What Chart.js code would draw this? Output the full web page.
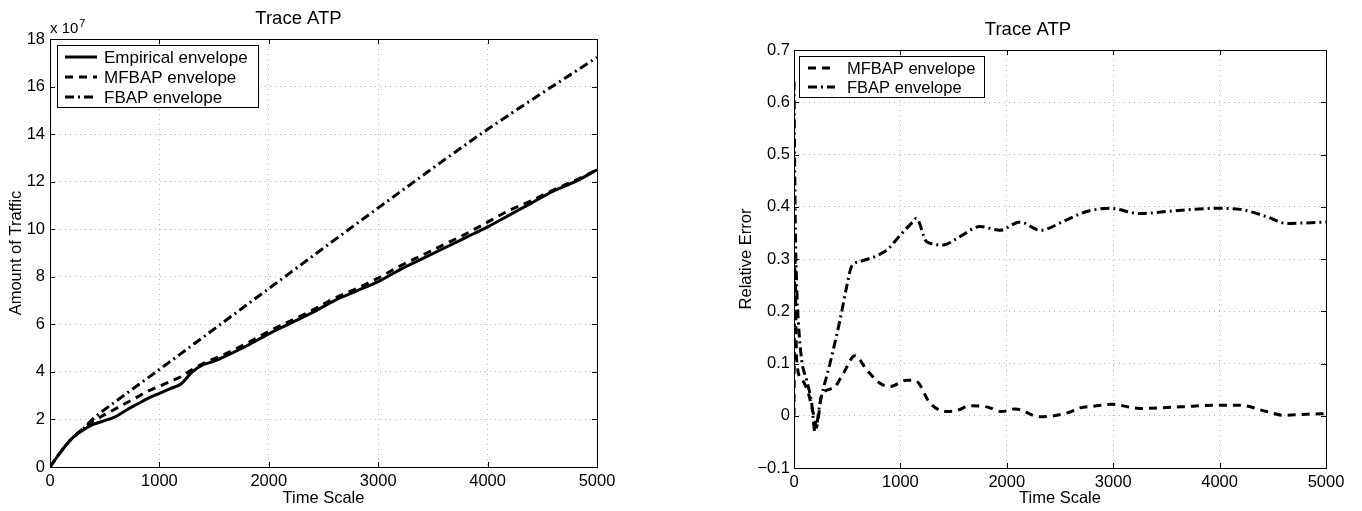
<!DOCTYPE html>
<html>
<head>
<meta charset="utf-8">
<title>Trace ATP</title>
<script src="https://cdn.jsdelivr.net/npm/chart.js@4/dist/chart.umd.min.js"></script>
<style>
  html, body { margin: 0; padding: 0; background: #fff; }
  #wrap { position: relative; width: 1362px; height: 511px; }
  .panel { position: absolute; top: 0; height: 511px; }
  #leftPanel { left: 0; width: 680px; }
  #rightPanel { left: 680px; width: 682px; }
</style>
</head>
<body>
<div id="wrap">
  <div class="panel" id="leftPanel"><canvas id="envChart"></canvas></div>
  <div class="panel" id="rightPanel"><canvas id="errChart"></canvas></div>
</div>
<script>
// Left panel: envelopes, values in units of 10^7
const envTime = [0, 100, 200, 300, 400, 500, 600, 700, 800, 900, 1000, 1100, 1200, 1300, 1400, 1500, 1600,
  1800, 2000, 2200, 2400, 2600, 2800, 3000, 3200, 3400, 3600, 3800, 4000, 4200, 4400, 4600, 4800, 5000];
const empirical = [0, 0.65, 1.2, 1.55, 1.8, 1.95, 2.12, 2.4, 2.65, 2.9, 3.1, 3.3, 3.5, 4.0, 4.3, 4.45, 4.65,
  5.1, 5.6, 6.05, 6.5, 7.0, 7.4, 7.8, 8.3, 8.75, 9.2, 9.65, 10.1, 10.6, 11.1, 11.6, 12.0, 12.5];
const mfbap = [0, 0.65, 1.2, 1.6, 1.95, 2.2, 2.45, 2.7, 2.95, 3.2, 3.4, 3.6, 3.8, 4.1, 4.35, 4.55, 4.75,
  5.2, 5.7, 6.15, 6.6, 7.1, 7.5, 7.95, 8.45, 8.9, 9.35, 9.8, 10.3, 10.8, 11.2, 11.65, 12.05, 12.5];
const fbapTime = [0, 100, 200, 300, 400, 640, 1000, 1858, 3016, 4000, 5000];
const fbap = [0, 0.65, 1.2, 1.6, 2.05, 2.89, 4.1, 7.02, 10.95, 14.2, 17.23];

// Right panel: relative error
const mfbapErrTime = [0, 8, 25, 72, 135, 181, 213, 260, 370, 463, 573, 683, 808, 902, 1059, 1150, 1278, 1435,
  1529, 1654, 1811, 1952, 2077, 2312, 2563, 2688, 2845, 2986, 3252, 3628, 3972, 4192, 4443, 4599, 4819, 5000];
const mfbapErr = [0, 0.3, 0.107, 0.07, 0.043, 0.005, -0.02, 0.04, 0.053, 0.081, 0.115, 0.088, 0.062, 0.056, 0.068, 0.066, 0.024, 0.008,
  0.01, 0.019, 0.017, 0.008, 0.013, -0.002, 0.005, 0.015, 0.019, 0.022, 0.014, 0.017, 0.02, 0.02, 0.008, 0.001, 0.003, 0.004];
const fbapErrTime = [0, 10, 25, 40, 72, 119, 166, 197, 244, 338, 432, 495, 542, 620, 871, 996, 1121, 1150,
  1247, 1403, 1560, 1748, 1936, 2124, 2312, 2563, 2752, 2970, 3252, 3562, 3972, 4192, 4443, 4631, 4800, 5000];
const fbapErr = [0.64, 0.4, 0.25, 0.183, 0.107, 0.068, 0.024, -0.03, 0.024, 0.1, 0.183, 0.247, 0.286, 0.295, 0.317, 0.345, 0.372, 0.378,
  0.333, 0.327, 0.343, 0.362, 0.355, 0.371, 0.355, 0.375, 0.391, 0.397, 0.387, 0.392, 0.397, 0.395, 0.381, 0.368, 0.369, 0.371];

const TITLE = "Trace ATP";
const X_LABEL = "Time Scale";
const X_TICKS = { min: 0, max: 5000, step: 1000 };
const ENV_TICKS = { min: 0, max: 18, step: 2 };
const ERR_TICKS = { min: -0.1, max: 0.7, step: 0.1 };

const FONT = '"Liberation Sans", Arial, Helvetica, sans-serif';
const GRID = "#b4b4b4";
const SOLID = [];
const DASHED = [8, 6];
const DASHDOT = [9, 4, 2, 4];

Chart.defaults.font.family = FONT;
Chart.defaults.font.size = 16;
Chart.defaults.color = "#000";

function toPoints(xs, ys) {
  return xs.map((x, i) => ({ x, y: ys[i] }));
}

function lineSet(label, xs, ys, dash) {
  return {
    label,
    data: toPoints(xs, ys),
    borderColor: "#000",
    borderWidth: 3,
    borderDash: dash,
    pointRadius: 0,
    fill: false,
    cubicInterpolationMode: "monotone"
  };
}

// matlab style box with inward ticks on all four sides
const frameTicks = {
  id: "frameTicks",
  afterDatasetsDraw(chart) {
    const { ctx, chartArea: a, scales } = chart;
    const len = 5;
    ctx.save();
    ctx.strokeStyle = "#000";
    ctx.lineWidth = 1;
    ctx.setLineDash([]);
    ctx.beginPath();
    scales.x.ticks.forEach((t) => {
      const px = Math.round(scales.x.getPixelForValue(t.value)) + 0.5;
      ctx.moveTo(px, a.bottom); ctx.lineTo(px, a.bottom - len);
      ctx.moveTo(px, a.top); ctx.lineTo(px, a.top + len);
    });
    scales.y.ticks.forEach((t) => {
      const py = Math.round(scales.y.getPixelForValue(t.value)) + 0.5;
      ctx.moveTo(a.left, py); ctx.lineTo(a.left + len, py);
      ctx.moveTo(a.right, py); ctx.lineTo(a.right - len, py);
    });
    ctx.stroke();
    ctx.strokeRect(Math.round(a.left) + 0.5, Math.round(a.top) + 0.5,
      Math.round(a.right - a.left), Math.round(a.bottom - a.top));
    ctx.restore();
  }
};

const boxLegend = {
  id: "boxLegend",
  afterDraw(chart, args, opts) {
    if (!opts.rows) return;
    const { ctx, chartArea: a } = chart;
    const left = a.left + opts.left;
    const top = a.top + opts.top;
    ctx.save();
    ctx.fillStyle = "#fff";
    ctx.fillRect(left, top, opts.width, opts.height);
    ctx.strokeStyle = "#000";
    ctx.lineWidth = 1;
    ctx.setLineDash([]);
    ctx.strokeRect(Math.round(left) + 0.5, Math.round(top) + 0.5, opts.width, opts.height);
    ctx.font = `${opts.fontSize}px ${FONT}`;
    ctx.textBaseline = "middle";
    ctx.fillStyle = "#000";
    chart.data.datasets.forEach((ds, i) => {
      const y = top + opts.firstRow + i * opts.rowHeight;
      ctx.beginPath();
      ctx.setLineDash(ds.borderDash);
      ctx.lineWidth = ds.borderWidth;
      ctx.moveTo(left + opts.sampleLeft, y);
      ctx.lineTo(left + opts.sampleLeft + opts.sampleLen, y);
      ctx.stroke();
      ctx.fillText(ds.label, left + opts.textLeft, y + 1);
    });
    ctx.restore();
  }
};

const exponentNote = {
  id: "exponentNote",
  afterDraw(chart, args, opts) {
    if (!opts.exp) return;
    const { ctx, chartArea: a } = chart;
    ctx.save();
    ctx.fillStyle = "#000";
    ctx.textBaseline = "alphabetic";
    ctx.font = `15px ${FONT}`;
    const base = "x 10";
    ctx.fillText(base, a.left, a.top - 6);
    const w = ctx.measureText(base).width;
    ctx.font = `11px ${FONT}`;
    ctx.fillText(opts.exp, a.left + w + 1, a.top - 12);
    ctx.restore();
  }
};

function buildOptions(cfg) {
  return {
    responsive: true,
    maintainAspectRatio: false,
    animation: false,
    layout: { padding: cfg.padding },
    plugins: {
      legend: { display: false },
      tooltip: { enabled: false },
      title: {
        display: true,
        text: TITLE,
        color: "#000",
        font: { size: 18.5, weight: "normal" },
        padding: { top: 7.4, bottom: 9.4 }
      },
      boxLegend: cfg.legend,
      exponentNote: { exp: cfg.exp }
    },
    scales: {
      x: {
        type: "linear",
        min: X_TICKS.min,
        max: X_TICKS.max,
        afterFit(scale) { scale.height = cfg.xHeight; },
        ticks: {
          stepSize: X_TICKS.step,
          autoSkip: false,
          maxRotation: 0,
          padding: 5,
          color: "#000",
          font: { size: 16.5 },
          callback: (v) => String(v)
        },
        grid: { color: GRID, lineWidth: 1, drawTicks: false },
        border: { display: false, dash: [1, 4] },
        title: { display: true, text: X_LABEL, color: "#000", font: { size: 16.5 }, padding: { top: 3, bottom: 3 } }
      },
      y: {
        type: "linear",
        min: cfg.yTicks.min,
        max: cfg.yTicks.max,
        afterFit(scale) { scale.width = cfg.yWidth; },
        ticks: {
          stepSize: cfg.yTicks.step,
          autoSkip: false,
          padding: cfg.yPad,
          color: "#000",
          font: { size: 16.5 },
          callback: cfg.yFormat
        },
        grid: { color: GRID, lineWidth: 1, drawTicks: false },
        border: { display: false, dash: [1, 4] },
        title: { display: true, text: cfg.yLabel, color: "#000", font: { size: 16.5 }, padding: { top: 7, bottom: 7 } }
      }
    }
  };
}

new Chart(document.getElementById("envChart"), {
  type: "line",
  data: {
    datasets: [
      lineSet("Empirical envelope", envTime, empirical, SOLID),
      lineSet("MFBAP envelope", envTime, mfbap, DASHED),
      lineSet("FBAP envelope", fbapTime, fbap, DASHDOT)
    ]
  },
  options: buildOptions({
    padding: { top: 0, left: 0, right: 83, bottom: 0 },
    xHeight: 44,
    yWidth: 50,
    yPad: 5,
    yTicks: ENV_TICKS,
    yLabel: "Amount of Traffic",
    yFormat: (v) => String(Math.round(v)),
    exp: "7",
    legend: {
      rows: 3, left: 7, top: 6, width: 201, height: 62,
      firstRow: 12, rowHeight: 20, sampleLeft: 8, sampleLen: 32, textLeft: 47, fontSize: 17
    }
  }),
  plugins: [frameTicks, boxLegend, exponentNote]
});

new Chart(document.getElementById("errChart"), {
  type: "line",
  data: {
    datasets: [
      lineSet("MFBAP envelope", mfbapErrTime, mfbapErr, DASHED),
      lineSet("FBAP envelope", fbapErrTime, fbapErr, DASHDOT)
    ]
  },
  options: buildOptions({
    padding: { top: 11, left: 50, right: 36, bottom: 0 },
    xHeight: 43,
    yWidth: 64,
    yPad: 4,
    yTicks: ERR_TICKS,
    yLabel: "Relative Error",
    yFormat: (v) => {
      const r = Math.round(v * 10) / 10;
      return r < 0 ? "\u2212" + Math.abs(r) : String(r);
    },
    exp: null,
    legend: {
      rows: 2, left: 5, top: 6, width: 185, height: 41,
      firstRow: 12, rowHeight: 19, sampleLeft: 9, sampleLen: 27, textLeft: 48, fontSize: 16.5
    }
  }),
  plugins: [frameTicks, boxLegend, exponentNote]
});
</script>
</body>
</html>
